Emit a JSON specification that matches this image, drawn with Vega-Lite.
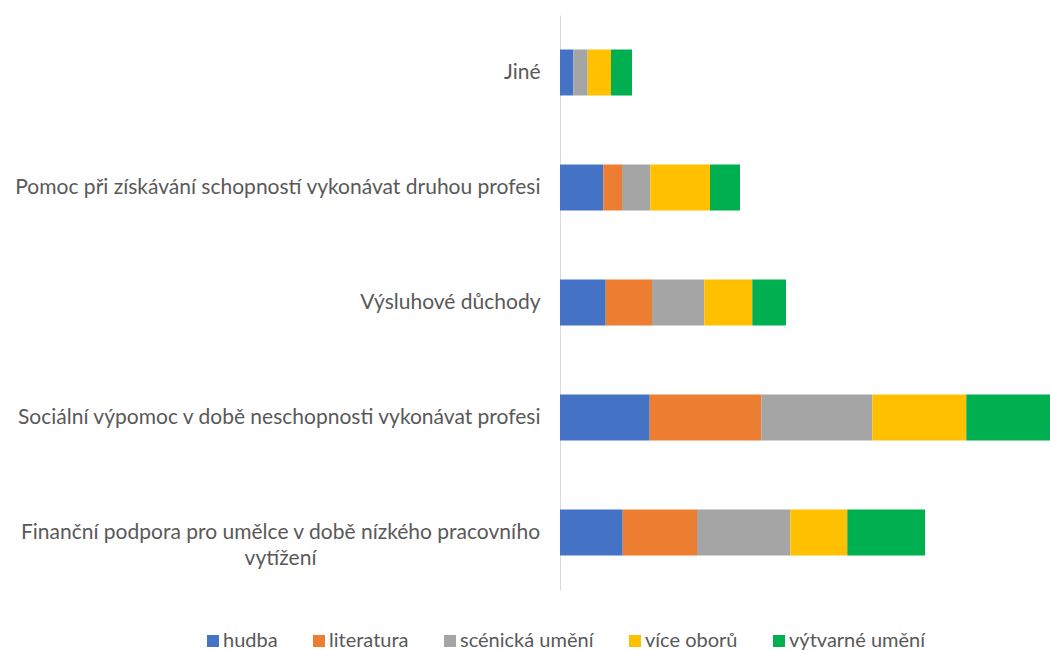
{
  "$schema": "https://vega.github.io/schema/vega-lite/v6.json",
  "width": 490,
  "height": 575,
  "autosize": {"type": "none"},
  "padding": {"left": 560, "top": 15, "right": 0, "bottom": 60},
  "background": "white",
  "config": {"view": {"stroke": null}, "font": "Lato"},
  "data": {
    "values": [
      {"kategorie": "Jiné", "obor": "hudba", "hodnota": 13.3},
      {"kategorie": "Jiné", "obor": "literatura", "hodnota": 0},
      {"kategorie": "Jiné", "obor": "scénická umění", "hodnota": 14.4},
      {"kategorie": "Jiné", "obor": "více oborů", "hodnota": 23.3},
      {"kategorie": "Jiné", "obor": "výtvarné umění", "hodnota": 21},
      {"kategorie": "Pomoc při získávání schopností vykonávat druhou profesi", "obor": "hudba", "hodnota": 43.3},
      {"kategorie": "Pomoc při získávání schopností vykonávat druhou profesi", "obor": "literatura", "hodnota": 18.7},
      {"kategorie": "Pomoc při získávání schopností vykonávat druhou profesi", "obor": "scénická umění", "hodnota": 28.3},
      {"kategorie": "Pomoc při získávání schopností vykonávat druhou profesi", "obor": "více oborů", "hodnota": 59.7},
      {"kategorie": "Pomoc při získávání schopností vykonávat druhou profesi", "obor": "výtvarné umění", "hodnota": 30},
      {"kategorie": "Výsluhové důchody", "obor": "hudba", "hodnota": 45.7},
      {"kategorie": "Výsluhové důchody", "obor": "literatura", "hodnota": 46.3},
      {"kategorie": "Výsluhové důchody", "obor": "scénická umění", "hodnota": 52.3},
      {"kategorie": "Výsluhové důchody", "obor": "více oborů", "hodnota": 48},
      {"kategorie": "Výsluhové důchody", "obor": "výtvarné umění", "hodnota": 33.7},
      {"kategorie": "Sociální výpomoc v době neschopnosti vykonávat profesi", "obor": "hudba", "hodnota": 89.7},
      {"kategorie": "Sociální výpomoc v době neschopnosti vykonávat profesi", "obor": "literatura", "hodnota": 111.6},
      {"kategorie": "Sociální výpomoc v době neschopnosti vykonávat profesi", "obor": "scénická umění", "hodnota": 111},
      {"kategorie": "Sociální výpomoc v době neschopnosti vykonávat profesi", "obor": "více oborů", "hodnota": 94},
      {"kategorie": "Sociální výpomoc v době neschopnosti vykonávat profesi", "obor": "výtvarné umění", "hodnota": 83.7},
      {"kategorie": "Finanční podpora pro umělce v době nízkého pracovního vytížení", "obor": "hudba", "hodnota": 62.7},
      {"kategorie": "Finanční podpora pro umělce v době nízkého pracovního vytížení", "obor": "literatura", "hodnota": 74.3},
      {"kategorie": "Finanční podpora pro umělce v době nízkého pracovního vytížení", "obor": "scénická umění", "hodnota": 93.3},
      {"kategorie": "Finanční podpora pro umělce v době nízkého pracovního vytížení", "obor": "více oborů", "hodnota": 57},
      {"kategorie": "Finanční podpora pro umělce v době nízkého pracovního vytížení", "obor": "výtvarné umění", "hodnota": 77.7}
    ]
  },
  "mark": {"type": "bar"},
  "encoding": {
    "y": {
      "field": "kategorie",
      "type": "nominal",
      "sort": [
        "Jiné",
        "Pomoc při získávání schopností vykonávat druhou profesi",
        "Výsluhové důchody",
        "Sociální výpomoc v době neschopnosti vykonávat profesi",
        "Finanční podpora pro umělce v době nízkého pracovního vytížení"
      ],
      "scale": {"paddingInner": 0.6, "paddingOuter": 0.3},
      "axis": {
        "title": null,
        "ticks": false,
        "domainColor": "#D9D9D9",
        "domainWidth": 1,
        "labelFont": "Lato",
        "labelFontSize": 21,
        "labelColor": "#595959",
        "labelPadding": {"condition": {"test": "indexof(datum.label, 'Finanční') == 0", "value": 280}, "value": 20},
        "labelAlign": {"condition": {"test": "indexof(datum.label, 'Finanční') == 0", "value": "center"}, "value": "right"},
        "labelLimit": 700,
        "labelLineHeight": 26,
        "labelExpr": "indexof(datum.label, 'Finanční') == 0 ? ['Finanční podpora pro umělce v době nízkého pracovního', 'vytížení'] : datum.label"
      }
    },
    "x": {
      "field": "hodnota",
      "type": "quantitative",
      "stack": "zero",
      "scale": {"domain": [0, 490], "nice": false},
      "axis": null
    },
    "color": {
      "field": "obor",
      "type": "nominal",
      "scale": {
        "domain": ["hudba", "literatura", "scénická umění", "více oborů", "výtvarné umění"],
        "range": ["#4472C4", "#ED7D31", "#A5A5A5", "#FFC000", "#00B050"]
      },
      "legend": {
        "title": null,
        "orient": "none",
        "legendX": -357,
        "legendY": 616,
        "padding": 0,
        "direction": "horizontal",
        "symbolType": "square",
        "symbolSize": 144,
        "symbolStrokeWidth": 0,
        "labelFont": "Lato",
        "labelFontSize": 20,
        "labelColor": "#595959",
        "labelOffset": 0,
        "columnPadding": 31
      }
    }
  }
}
